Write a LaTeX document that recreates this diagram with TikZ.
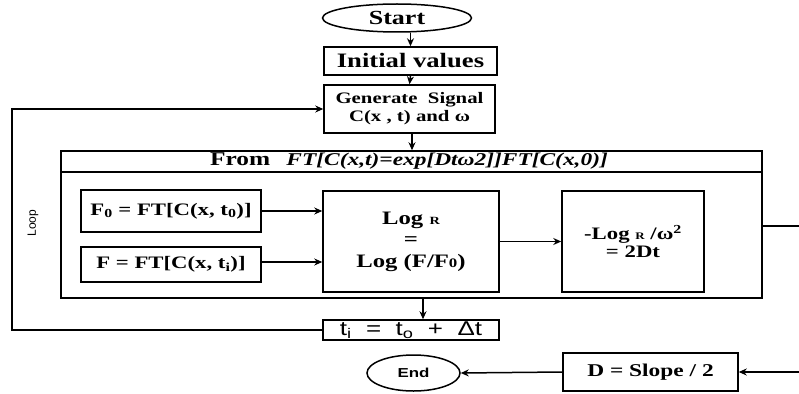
\documentclass[tikz,border=0pt]{standalone}
\usepackage{fontspec}
\newfontfamily\boxfont[FakeStretch=1.3]{Liberation Serif}
\newfontfamily\sanswide[FakeStretch=1.3]{Liberation Sans}
\newfontfamily\sansplain{Liberation Sans}
\newcommand\fs[2]{\fontsize{#1}{#2}\selectfont}
\usetikzlibrary{positioning,shapes.geometric,calc,arrows.meta}
\tikzset{flow/.style={draw,line width=1.5pt,inner sep=0pt,align=center},
  my box/.style 2 args={flow,font=\boxfont\bfseries\fs{#1}{#2}},
  conn/.style={-{Stealth[length=8pt,width=7pt]},line width=1.5pt}}

\begin{document}
\begin{tikzpicture}[x=1pt,y=-1pt]
\useasboundingbox (0,0) rectangle (799,393);
\node[flow,ellipse,minimum width=149pt,minimum height=28pt,font=\boxfont\bfseries\fs{20}{22}] (start) at (397,18) {Start};
\node[my box={20.5}{22},minimum width=173pt,minimum height=28pt] (init) at (410.5,61) {Initial values};
\node[my box={16}{18},minimum width=171pt,minimum height=48pt] (gen) at (409.5,109) {Generate\ \ Signal\\C(x , t) and ω};
% frame with header
\node[flow,minimum width=701pt,minimum height=147pt] (frame) at (411.5,224.5) {};
\coordinate (hdr) at (0,172);
\draw[line width=1.5pt] (frame.west |- hdr) -- (frame.east |- hdr);
\node[font=\boxfont\bfseries] (head) at (409,161.5) {{\fs{19.5}{20}From}\ \ \ \ \ {\fs{18}{20}\itshape FT[C(x,t)=exp[Dtω2]]FT[C(x,0)]}};
\node[my box={17.5}{19},minimum width=180pt,minimum height=42pt] (fzero) at (171,211) {F\textsubscript{0} = FT[C(x, t\textsubscript{0})]};
\node[my box={17.5}{19},minimum width=180pt,minimum height=35pt] (fone) at (171,264.5) {F = FT[C(x, t\textsubscript{i})]};
\node[my box={19}{21.5},minimum width=176pt,minimum height=101pt] (logr) at (411,241.5) {Log {\fs{11}{11}R}\\=\\Log (F/F{\fs{13}{13}0})};
\node[my box={17.5}{18},minimum width=142pt,minimum height=101pt] (dt) at (633,241.5) {-Log {\fs{10}{10}R} /ω\textsuperscript{2}\\= 2Dt};
% time step and end
\node[flow,font=\sanswide\fs{20}{20},minimum width=176pt,text height=14.5pt,text depth=3pt,inner ysep=1.25pt] (tbox) at (411,330) {t\textsubscript{i}\ \ =\ \ t\textsubscript{o}\ \ +\ \ Δt};
\node[flow,ellipse,minimum width=93pt,minimum height=36pt,font=\sanswide\bfseries\fs{13}{14}] (endn) at (413.5,373) {End};
\node[my box={18}{19},minimum width=175pt,minimum height=38pt] (slope) at (650.5,372) {D = Slope / 2};
\node[font=\sansplain\fs{12}{12},rotate=90] (loop) at (33,223) {Loop};
\coordinate (loopx) at (12,0);
\coordinate (rside) at (799,0);
\coordinate (rbot) at (799,372);
\draw[conn] (init.north |- start.south) -- (init.north);
\draw[conn] (init.south) -- (gen.north);
\draw[conn] ([xshift=2.5pt]gen.south) -- ([xshift=2.5pt]gen.south |- frame.north);
\draw[conn] (fzero.east) -- (fzero.east -| logr.west);
\draw[conn] ([yshift=2.5pt]fone.east) -- ([yshift=2.5pt]fone.east -| logr.west);
\draw[conn] (logr.east) -- (dt.west);
\draw[conn] ([xshift=12pt]tbox.north |- frame.south) -- ([xshift=12pt]tbox.north);
\draw[conn] (tbox.west) -- (tbox.west -| loopx) |- (gen.west);
\draw[line width=1.5pt] ([yshift=-1.5pt]frame.east) -- ([yshift=-1.5pt]frame.east -| rside);
\draw[conn] (rbot) -- (slope.east);
\draw[conn] (slope.west) -- (endn.east);
\end{tikzpicture}
\end{document}
